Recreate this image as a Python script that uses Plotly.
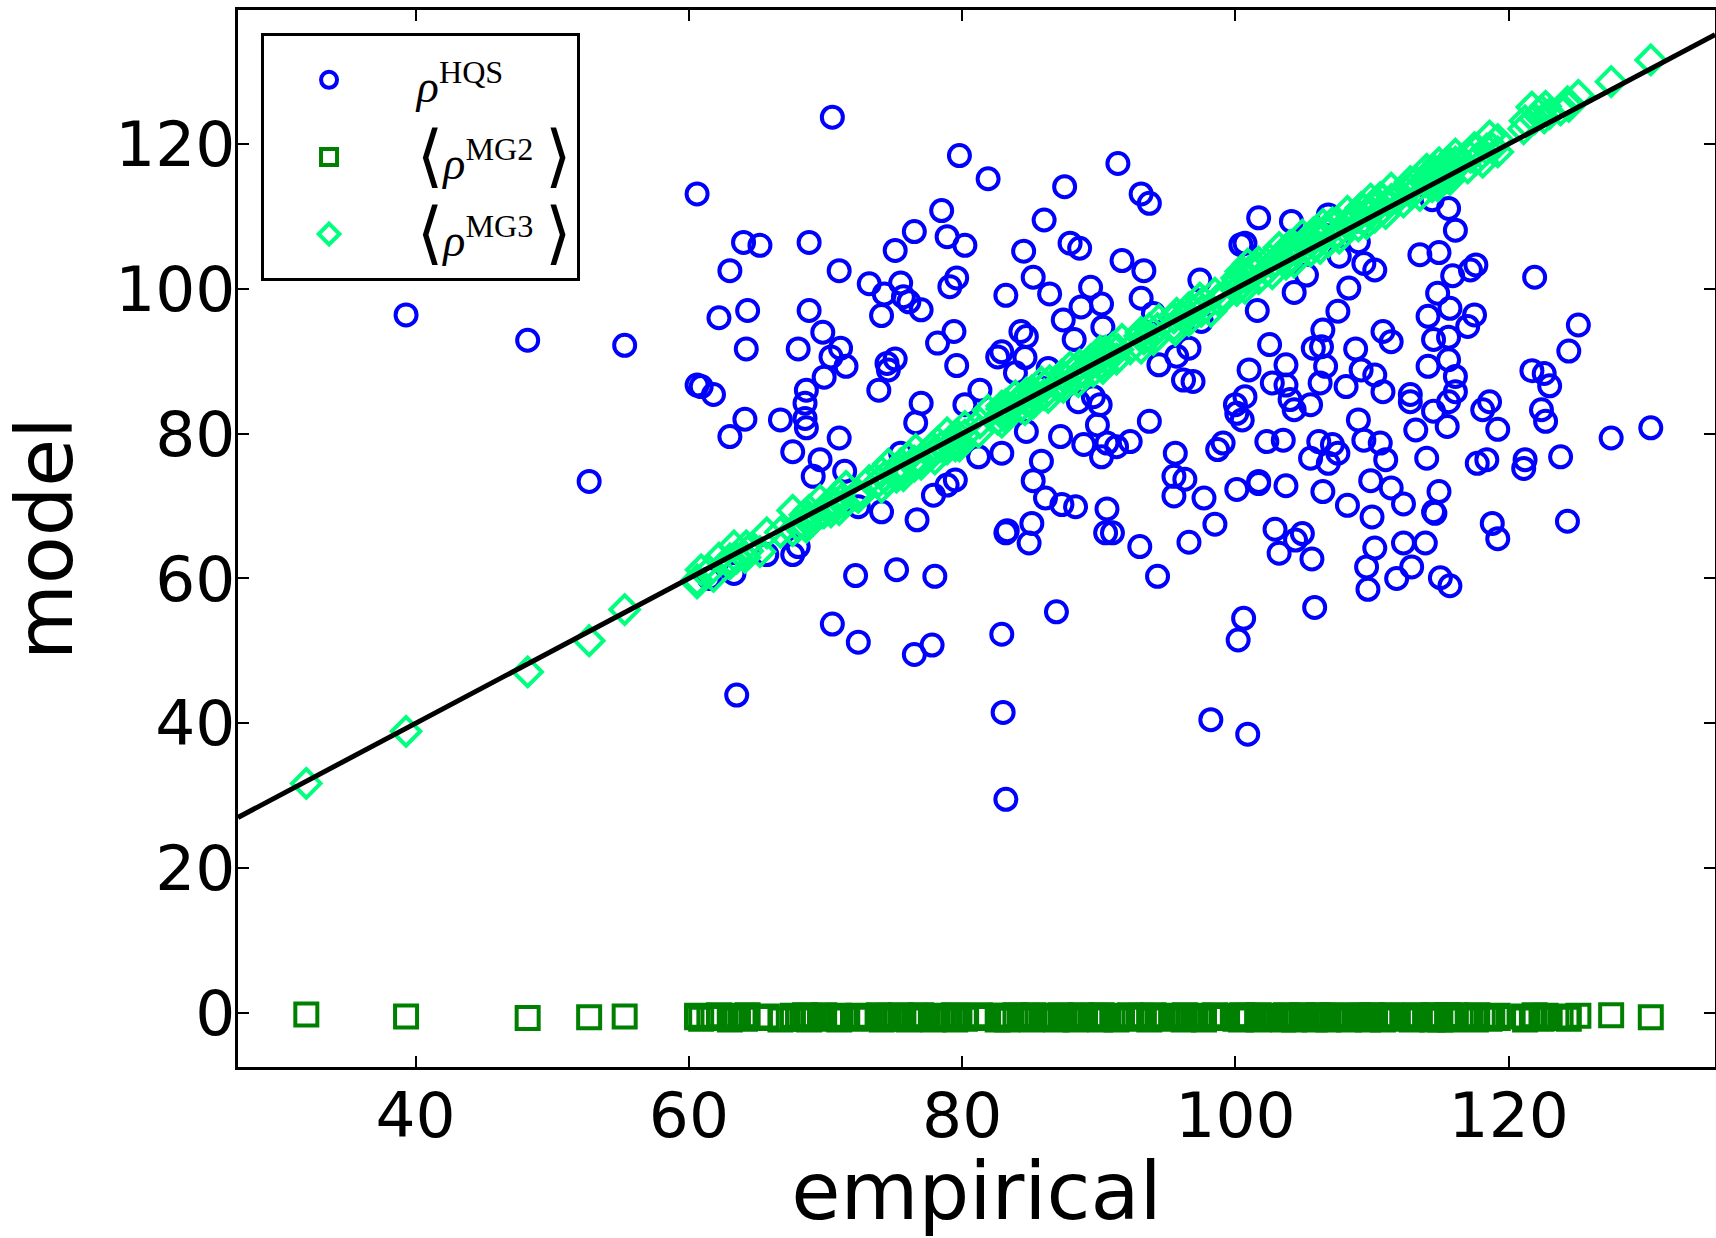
import plotly.graph_objects as go

# ---- data -------------------------------------------------------------
empirical = [
    32.0, 39.3, 48.2, 52.7, 55.3,
    60.6, 60.6, 60.9, 61.5, 61.8, 62.2, 63.0, 63.0, 63.3, 63.5,
    64.0, 64.1, 64.2, 64.3, 65.2, 65.7, 66.7, 67.6, 67.6, 68.0,
    68.0, 68.5, 68.5, 68.6, 68.6, 68.8, 68.8, 69.1, 69.6, 69.8,
    69.9, 70.4, 70.5, 70.5, 71.0, 71.0, 71.1, 71.4, 71.5, 72.2,
    72.4, 72.4, 73.2, 73.9, 74.1, 74.1, 74.3, 74.5, 74.6, 75.1,
    75.1, 75.2, 75.5, 75.5, 75.7, 76.1, 76.5, 76.5, 76.6, 76.7,
    77.0, 77.0, 77.8, 77.9, 78.0, 78.2, 78.5, 78.9, 78.9, 79.1,
    79.4, 79.5, 79.6, 79.6, 79.8,
    80.2, 80.2, 81.2, 81.3, 81.9, 82.6, 82.9, 82.9, 82.9, 83.0,
    83.2, 83.2, 83.2, 83.3, 83.9, 84.3, 84.5, 84.6, 84.7, 84.7,
    84.9, 85.1, 85.2, 85.2, 85.8, 86.0, 86.1, 86.3, 86.4, 86.9,
    87.2, 87.3, 87.4, 87.5, 87.9, 88.2, 88.3, 88.5, 88.6, 88.7,
    88.9, 89.4, 89.6, 89.9, 90.1, 90.2, 90.2, 90.3, 90.5, 90.6,
    90.6, 91.0, 91.3, 91.4, 91.7, 92.3, 93.0, 93.1, 93.1, 93.3,
    93.7, 93.7, 94.0, 94.3, 94.4, 95.5, 95.5, 95.6, 95.7, 96.2,
    96.3, 96.6, 96.6, 96.9, 97.4, 97.5, 97.7, 98.2, 98.5, 98.7,
    99.1,
    100.0, 100.1, 100.1, 100.2, 100.4, 100.5, 100.6, 100.7, 100.7, 100.9,
    101.0, 101.6, 101.7, 101.7, 101.7, 102.3, 102.5, 102.7, 102.9, 103.2,
    103.5, 103.7, 103.7, 103.7, 104.0, 104.1, 104.3, 104.3, 104.4, 104.9,
    105.2, 105.5, 105.5, 105.6, 105.7, 105.8, 106.1, 106.2, 106.3, 106.4,
    106.4, 106.6, 106.8, 106.8, 107.1, 107.5, 107.5, 107.6, 108.1, 108.2,
    108.3, 108.8, 109.0, 109.0, 109.2, 109.4, 109.4, 109.6, 109.7, 109.9,
    110.0, 110.2, 110.2, 110.2, 110.6, 110.8, 110.8, 111.0, 111.4, 111.4,
    111.8, 112.3, 112.3, 112.8, 112.8, 112.9, 113.2, 113.5, 113.9, 114.0,
    114.1, 114.1, 114.4, 114.5, 114.5, 114.5, 114.6, 114.8, 114.9, 114.9,
    115.0, 115.5, 115.6, 115.6, 115.6, 115.6, 115.7, 115.7, 115.9, 116.1,
    116.1, 116.1, 117.0, 117.2, 117.5, 117.6, 117.7, 118.1, 118.4, 118.6,
    118.8, 119.2, 119.2, 121.1, 121.2, 121.7, 121.9, 122.4, 122.6, 122.7,
    123.0, 123.8, 124.3, 124.4, 125.1, 127.5, 130.4,
]

rho_hqs = [
    None, 96.4, 92.9, 73.4, 92.2,
    113.1, 86.7, 86.5, 60.0, 85.4, 96.0, 102.5, 79.6, 60.7, 43.9,
    106.4, 82.0, 91.7, 97.0, 106.0, 63.3, 81.9, 77.5, 63.3, 91.7,
    64.4, 84.2, 82.1, 86.0, 80.8, 106.4, 97.0, 74.1, 76.4, 94.0,
    87.8, 90.6, 123.7, 53.7, 102.5, 79.4, 91.8, 74.8, 89.3, 60.4,
    69.9, 51.2, 100.7, 86.0, 96.3, 69.2, 99.3, 89.7, 88.8, 105.3,
    90.3, 61.2, 100.8, 77.3, 98.9, 98.2, 107.9, 49.5, 81.5, 68.1,
    97.1, 84.2, 50.8, 71.5, 60.3, 92.5, 110.8, 107.2, 72.9, 100.3,
    94.1, 73.6, 101.5, 89.4, 118.4,
    106.0, 84.0, 76.8, 86.0, 115.2, 90.6, 91.3, 77.3, 52.3, 41.5,
    99.1, 66.3, 29.5, 66.6, 88.4, 94.1, 105.2, 90.5, 93.4, 80.3,
    64.9, 67.6, 101.6, 73.5, 76.2, 109.5, 71.1, 89.0, 99.3, 55.4,
    79.6, 70.2, 95.7, 114.1, 106.3, 93.0, 69.9, 84.4, 105.6, 97.5,
    78.5, 100.2, 85.1, 81.2, 84.0, 97.9, 76.8, 94.7, 66.3, 78.7,
    69.6, 66.3, 78.2, 117.3, 103.9, 78.9, 64.4, 113.1, 98.7, 102.5,
    111.8, 81.7, 96.6, 60.3, 89.5, 74.1, 71.4, 77.3, 90.7, 87.4,
    73.7, 91.8, 65.0, 87.2, 101.2, 95.5, 71.1, 40.5, 67.5, 77.8,
    78.7,
    84.0, 82.8, 72.3, 51.5, 106.1, 81.9, 54.5, 106.3, 85.1, 38.5,
    88.8, 97.0, 109.8, 73.4, 73.1, 78.9, 92.3, 87.0, 66.8, 63.5,
    79.1, 89.5, 86.7, 72.8, 84.7, 109.3, 99.5, 83.3, 65.3, 66.2,
    101.9, 84.0, 76.6, 62.7, 91.8, 56.0, 78.9, 87.0, 92.0, 94.3,
    72.0, 89.3, 110.2, 75.9, 78.5, 96.9, 77.3, 104.5, 86.5, 70.1,
    100.1, 91.7, 106.5, 81.9, 88.8, 103.5, 79.1, 61.6, 58.5, 73.5,
    68.5, 102.6, 88.1, 64.2, 78.7, 94.1, 85.8, 76.4, 92.7, 72.5,
    60.0, 70.3, 64.9, 85.4, 84.4, 61.6, 80.5, 104.7, 64.9, 76.6,
    96.2, 89.3, 112.3, 93.0, 83.1, 69.2, 69.0, 99.4, 105.0, 72.0,
    60.1, 81.0, 111.1, 93.3, 90.2, 84.4, 97.3, 59.0, 101.8, 108.1,
    87.9, 85.8, 94.8, 102.6, 96.4, 103.3, 75.9, 83.3, 76.4, 84.4,
    67.6, 80.6, 65.5, 75.2, 76.4, 88.7, 101.6, 83.3, 88.3, 81.7,
    86.6, 76.8, 67.9, 91.4, 95.0, 79.4, 80.8,
]

rho_mg2 = [
    -0.2, -0.5, -0.7, -0.6, -0.5,
    -0.6, -0.4, -0.8, -0.5, -0.7, -0.3, -0.9, -0.6, -0.5, -0.7,
    -0.4, -0.8, -0.6, -0.3, -0.7, -0.5, -0.9, -0.6, -0.4, -0.8,
    -0.5, -0.7, -0.3, -0.6, -0.8, -0.4, -0.9, -0.5, -0.6, -0.7,
    -0.3, -0.8, -0.5, -0.6, -0.4, -0.9, -0.7, -0.5, -0.6, -0.8,
    -0.4, -0.6, -0.7, -0.3, -0.9, -0.5, -0.8, -0.6, -0.4, -0.7,
    -0.6, -0.5, -0.8, -0.3, -0.7, -0.9, -0.4, -0.6, -0.5, -0.8,
    -0.7, -0.3, -0.6, -0.9, -0.5, -0.4, -0.8, -0.6, -0.7, -0.5,
    -0.3, -0.9, -0.6, -0.4, -0.7,
    -0.5, -0.8, -0.6, -0.3, -0.7, -0.9, -0.4, -0.6, -0.5, -0.8,
    -0.7, -0.4, -0.6, -0.9, -0.3, -0.5, -0.8, -0.6, -0.7, -0.4,
    -0.6, -0.9, -0.5, -0.3, -0.8, -0.7, -0.4, -0.6, -0.5, -0.9,
    -0.3, -0.7, -0.6, -0.8, -0.4, -0.5, -0.9, -0.6, -0.7, -0.3,
    -0.8, -0.5, -0.4, -0.6, -0.9, -0.7, -0.3, -0.5, -0.8, -0.6,
    -0.4, -0.7, -0.9, -0.5, -0.6, -0.3, -0.8, -0.4, -0.7, -0.6,
    -0.5, -0.9, -0.3, -0.6, -0.8, -0.4, -0.7, -0.5, -0.6, -0.9,
    -0.3, -0.8, -0.5, -0.7, -0.4, -0.6, -0.9, -0.5, -0.3, -0.7,
    -0.6,
    -0.8, -0.4, -0.5, -0.7, -0.9, -0.3, -0.6, -0.8, -0.5, -0.4,
    -0.7, -0.6, -0.9, -0.3, -0.5, -0.8, -0.4, -0.7, -0.6, -0.5,
    -0.9, -0.3, -0.8, -0.6, -0.4, -0.7, -0.5, -0.9, -0.6, -0.3,
    -0.8, -0.5, -0.7, -0.4, -0.6, -0.9, -0.3, -0.5, -0.8, -0.7,
    -0.4, -0.6, -0.5, -0.9, -0.3, -0.7, -0.8, -0.6, -0.4, -0.5,
    -0.9, -0.6, -0.3, -0.7, -0.8, -0.5, -0.4, -0.6, -0.9, -0.7,
    -0.3, -0.5, -0.8, -0.6, -0.4, -0.7, -0.9, -0.5, -0.3, -0.6,
    -0.8, -0.4, -0.7, -0.5, -0.6, -0.9, -0.3, -0.8, -0.5, -0.7,
    -0.4, -0.6, -0.9, -0.3, -0.5, -0.8, -0.7, -0.4, -0.6, -0.5,
    -0.9, -0.3, -0.7, -0.6, -0.8, -0.4, -0.5, -0.9, -0.6, -0.3,
    -0.7, -0.8, -0.5, -0.4, -0.6, -0.9, -0.3, -0.7, -0.5, -0.8,
    -0.6, -0.4, -0.7, -0.5, -0.9, -0.6, -0.3, -0.8, -0.5, -0.4,
    -0.7, -0.6, -0.5, -0.8, -0.4, -0.3, -0.6,
]

rho_mg3 = [
    31.7, 38.9, 47.1, 51.4, 55.7,
    59.8, 59.4, 61.2, 61.0, 60.3, 62.8, 62.7, 62.0, 64.5, 62.8,
    63.2, 62.9, 64.5, 63.8, 63.7, 66.3, 66.4, 66.6, 69.4, 67.3,
    67.2, 67.3, 68.8, 68.1, 67.1, 69.4, 68.5, 68.1, 70.8, 69.1,
    69.1, 69.2, 70.8, 70.0, 69.5, 71.6, 70.8, 70.4, 72.7, 71.5,
    71.6, 71.2, 73.5, 73.4, 72.6, 74.7, 74.0, 73.5, 75.8, 74.4,
    74.3, 74.0, 75.8, 75.0, 74.2, 76.7, 76.2, 75.5, 77.8, 76.0,
    76.2, 75.8, 78.1, 77.4, 76.5, 78.8, 78.2, 77.9, 80.1, 78.4,
    78.6, 78.3, 79.9, 79.1, 78.3,
    79.8, 81.0, 80.2, 81.5, 83.2, 82.0, 83.4, 81.6, 83.8, 82.8,
    82.8, 84.0, 82.2, 83.5, 85.2, 83.7, 85.0, 83.3, 85.6, 84.5,
    84.5, 85.9, 84.2, 85.4, 87.1, 85.4, 86.6, 85.0, 87.3, 86.7,
    86.8, 88.1, 86.4, 87.7, 89.2, 87.6, 88.8, 87.2, 89.5, 88.5,
    88.5, 90.2, 88.6, 90.1, 91.4, 89.6, 90.7, 89.0, 91.4, 90.4,
    90.2, 91.8, 90.3, 91.6, 93.0, 91.7, 93.5, 91.8, 94.0, 93.1,
    93.3, 94.5, 93.0, 94.5, 95.7, 94.9, 96.0, 94.3, 96.6, 96.0,
    95.9, 97.4, 95.6, 97.1, 98.7, 96.9, 98.2, 96.9, 99.4, 98.5,
    98.7,
    100.6, 101.5, 99.8, 101.2, 102.4, 100.7, 102.2, 100.1, 101.6, 103.4,
    101.6, 103.0, 101.4, 102.7, 103.7, 102.5, 104.1, 102.1, 103.8, 105.7,
    104.1, 105.1, 103.4, 104.7, 106.0, 104.3, 105.9, 103.7, 105.3, 107.4,
    105.8, 106.9, 105.2, 106.6, 107.7, 106.0, 107.7, 105.6, 107.2, 108.9,
    107.0, 108.0, 106.5, 107.8, 109.1, 107.7, 109.1, 107.0, 109.0, 110.7,
    108.9, 110.2, 108.7, 110.0, 111.2, 109.6, 111.0, 109.0, 110.6, 112.4,
    110.6, 111.6, 109.9, 111.2, 112.6, 111.0, 112.4, 110.4, 112.3, 113.9,
    112.4, 113.7, 112.0, 113.8, 114.8, 113.1, 114.8, 112.9, 114.8, 116.5,
    114.7, 115.5, 114.1, 115.5, 116.5, 114.7, 116.2, 114.2, 115.8, 117.4,
    115.6, 116.9, 115.3, 116.6, 117.6, 115.8, 117.3, 115.1, 116.8, 118.6,
    116.7, 117.5, 116.7, 118.2, 119.5, 117.8, 119.3, 117.5, 119.3, 121.1,
    119.4, 120.6, 118.9, 122.1, 123.2, 125.1, 123.5, 124.6, 123.6, 125.2,
    124.2, 124.7, 125.8, 125.2, 126.7, 128.6, 131.6,
]

x_ticks = [40, 60, 80, 100, 120]
y_ticks = [0, 20, 40, 60, 80, 100, 120]
x_range = [27.0, 135.1]
y_range = [-7.46, 138.5]

# ---- legend labels ----------------------------------------------------
NB = "\u00a0"
LEAD = NB + '<span style="font-size:34px">\u00a0</span>'
SMALL = '<span style="font-size:46px">'
BRACKET = '<span style="font-size:68px">'


def bracket_label(tag):
    return (LEAD + BRACKET + "⟨</span>" + SMALL + "<i>ρ</i><sup>" + tag
            + "</sup> </span>" + BRACKET + "⟩</span>")


label_hqs = LEAD + SMALL + "<i>ρ</i><sup>HQS</sup></span>"
label_mg2 = bracket_label("MG2")
label_mg3 = bracket_label("MG3")

# ---- figure -----------------------------------------------------------
fig = go.Figure()

fig.add_trace(go.Scatter(
    x=empirical, y=rho_hqs, mode="markers", name=label_hqs,
    marker=dict(symbol="circle-open", size=21, color="#0000ff",
                line=dict(width=4, color="#0000ff")),
))
fig.add_trace(go.Scatter(
    x=empirical, y=rho_mg2, mode="markers", name=label_mg2,
    marker=dict(symbol="square-open", size=22, color="#008000",
                line=dict(width=4, color="#008000")),
))
fig.add_trace(go.Scatter(
    x=empirical, y=rho_mg3, mode="markers", name=label_mg3,
    marker=dict(symbol="diamond-open", size=22, color="#00ff7f",
                line=dict(width=4, color="#00ff7f")),
))
# identity line across the full x range
fig.add_trace(go.Scatter(
    x=x_range, y=x_range, mode="lines", showlegend=False,
    line=dict(color="black", width=5),
))

axis_common = dict(
    showline=True, linecolor="black", linewidth=3, mirror="ticks",
    ticks="inside", ticklen=11, tickwidth=1.5, tickcolor="black",
    showgrid=False, zeroline=False, automargin=False,
    tickfont=dict(family="DejaVu Sans", size=63, color="black"),
)

fig.update_xaxes(
    range=x_range, tickvals=x_ticks, ticklabelstandoff=-9,
    title=dict(text=NB + "empirical", standoff=27,
               font=dict(family="DejaVu Sans", size=80, color="black")),
    **axis_common,
)
fig.update_yaxes(
    range=y_range, tickvals=y_ticks, ticklabelstandoff=-13,
    title=dict(text="model", standoff=25,
               font=dict(family="DejaVu Sans", size=78, color="black")),
    **axis_common,
)

fig.update_layout(
    template="none",
    width=1716, height=1238,
    margin=dict(l=238, r=1, t=10, b=171, autoexpand=False),
    paper_bgcolor="white", plot_bgcolor="white",
    showlegend=True,
    legend=dict(
        x=0.0156, y=0.978, xanchor="left", yanchor="top",
        bgcolor="white", bordercolor="black", borderwidth=3,
        font=dict(family="Liberation Serif, DejaVu Serif, serif", size=57,
                  color="black"),
        itemwidth=120, itemsizing="trace",
        tracegroupgap=0,
    ),
)

fig.write_html("out.html")
